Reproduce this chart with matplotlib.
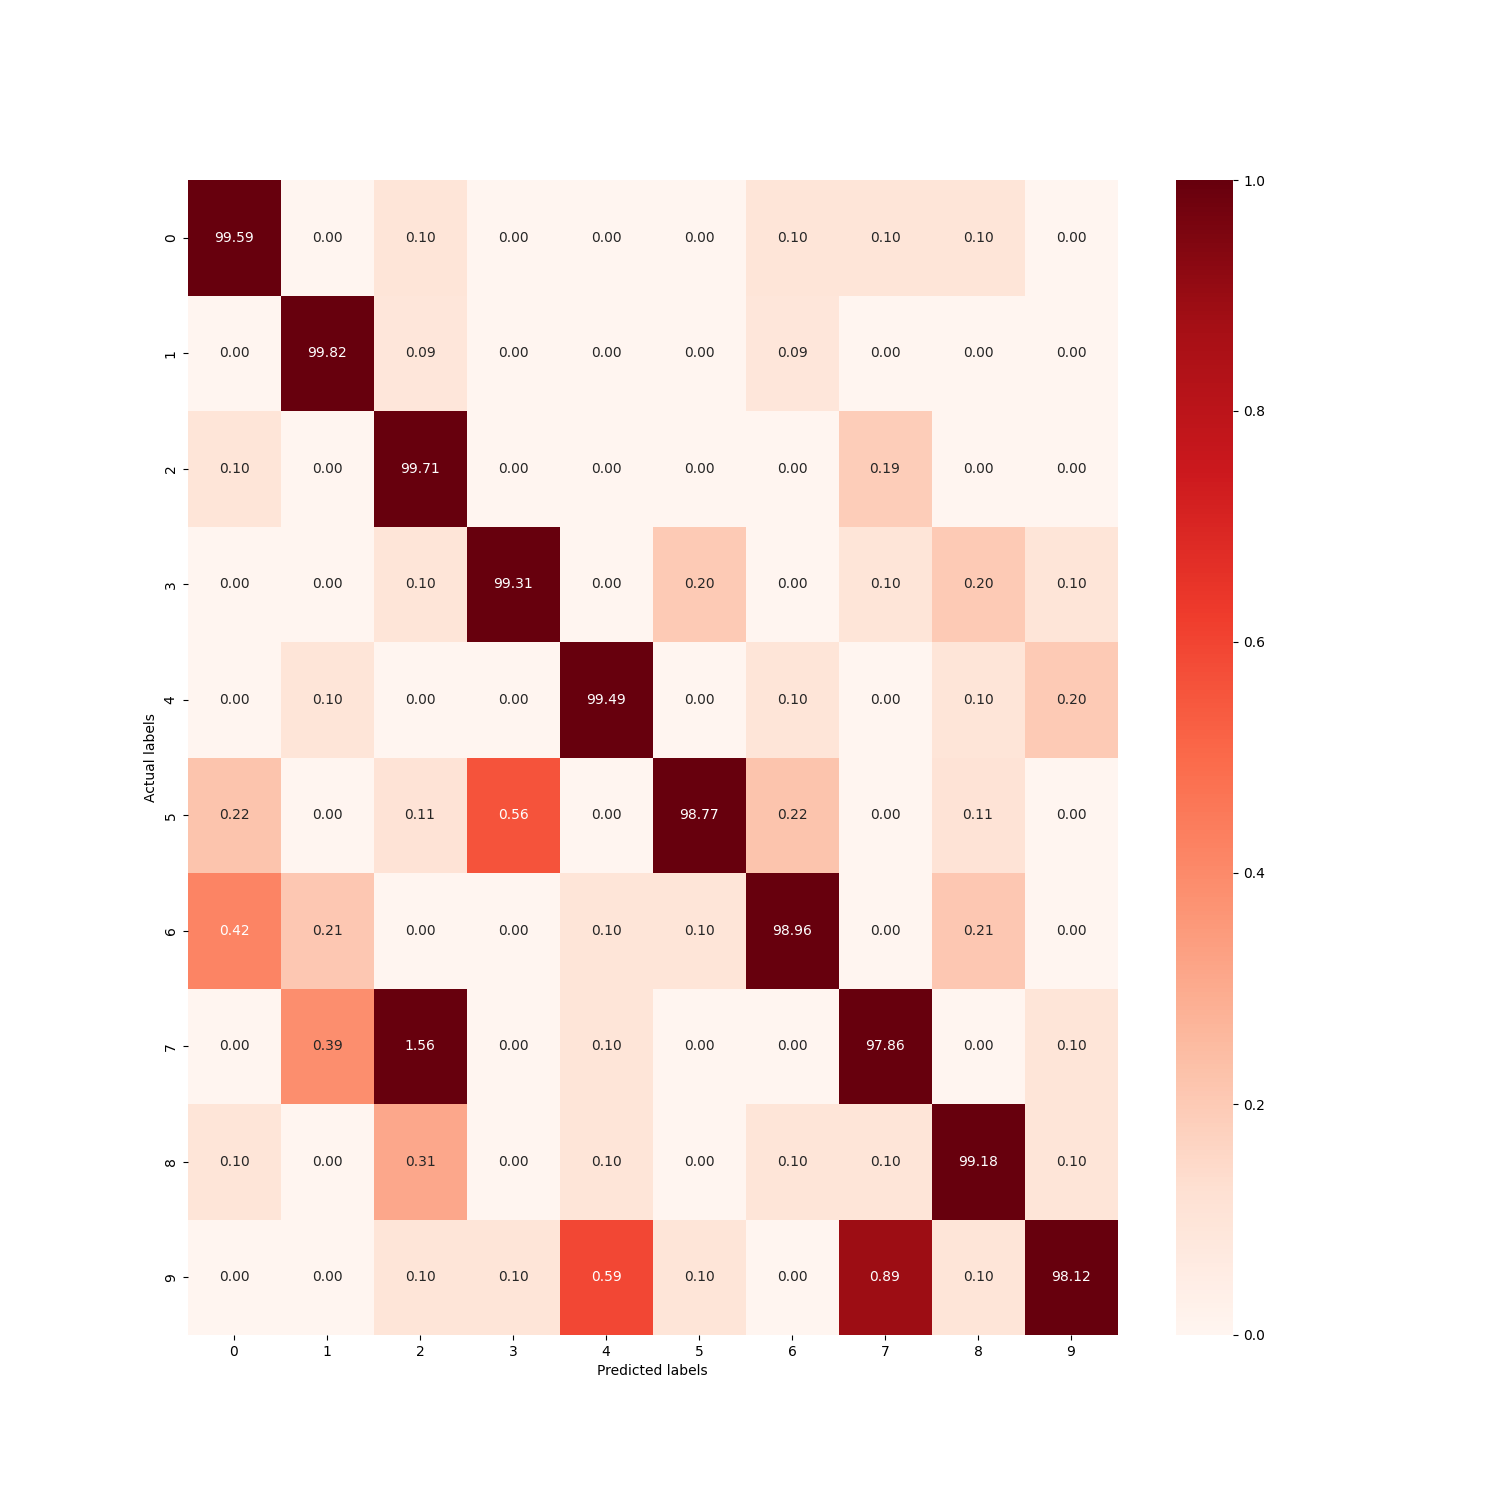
import matplotlib
matplotlib.use("Agg")
import matplotlib.pyplot as plt
import numpy as np
import seaborn as sns

labels = [str(i) for i in range(10)]

# confusion matrix in percent (row = actual, col = predicted)
row0 = [99.59, 0.00, 0.10, 0.00, 0.00, 0.00, 0.10, 0.10, 0.10, 0.00]
row1 = [0.00, 99.82, 0.09, 0.00, 0.00, 0.00, 0.09, 0.00, 0.00, 0.00]
row2 = [0.10, 0.00, 99.71, 0.00, 0.00, 0.00, 0.00, 0.19, 0.00, 0.00]
row3 = [0.00, 0.00, 0.10, 99.31, 0.00, 0.20, 0.00, 0.10, 0.20, 0.10]
row4 = [0.00, 0.10, 0.00, 0.00, 99.49, 0.00, 0.10, 0.00, 0.10, 0.20]
row5 = [0.22, 0.00, 0.11, 0.56, 0.00, 98.77, 0.22, 0.00, 0.11, 0.00]
row6 = [0.42, 0.21, 0.00, 0.00, 0.10, 0.10, 98.96, 0.00, 0.21, 0.00]
row7 = [0.00, 0.39, 1.56, 0.00, 0.10, 0.00, 0.00, 97.86, 0.00, 0.10]
row8 = [0.10, 0.00, 0.31, 0.00, 0.10, 0.00, 0.10, 0.10, 99.18, 0.10]
row9 = [0.00, 0.00, 0.10, 0.10, 0.59, 0.10, 0.00, 0.89, 0.10, 98.12]

cm = np.array([row0, row1, row2, row3, row4, row5, row6, row7, row8, row9])

plt.figure(figsize=(15, 15), dpi=100)
ax = sns.heatmap(cm, annot=True, fmt=".2f", cmap="Reds", vmin=0, vmax=1,
                 xticklabels=labels, yticklabels=labels)
ax.set_xlabel("Predicted labels")
ax.set_ylabel("Actual labels")

plt.savefig("out.png", dpi=100)
